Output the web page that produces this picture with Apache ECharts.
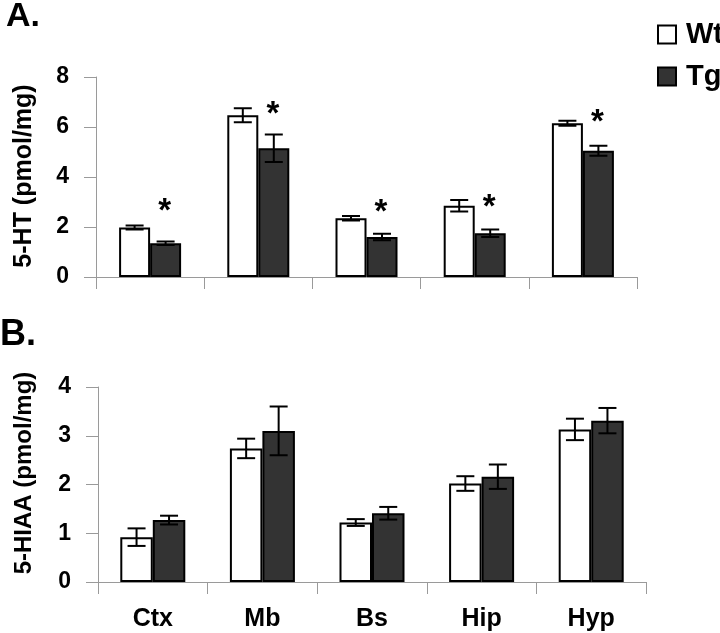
<!DOCTYPE html>
<html><head><meta charset="utf-8">
<script src="https://cdn.jsdelivr.net/npm/echarts@6/dist/echarts.min.js"></script>
<style>html,body{margin:0;padding:0;background:#fff}#c{width:720px;height:633px}</style>
</head><body><div id="c"></div>
<script>
const categories = ['Ctx', 'Mb', 'Bs', 'Hip', 'Hyp'];
const htTicks = [0, 2, 4, 6, 8];
const hiaaTicks = [0, 1, 2, 3, 4];
// Panel A: 5-HT
const htWt = [1.98, 6.47, 2.35, 2.85, 6.15];
const htWtErr = [0.08, 0.28, 0.09, 0.23, 0.1];
const htTg = [1.35, 5.15, 1.6, 1.75, 5.05];
const htTgErr = [0.07, 0.55, 0.13, 0.15, 0.2];
const htStarY = [2.88, 6.78, 2.86, 3.04, 6.44];
// Panel B: 5-HIAA
const hiaaWt = [0.92, 2.74, 1.22, 2.02, 3.13];
const hiaaWtErr = [0.18, 0.2, 0.07, 0.15, 0.22];
const hiaaTg = [1.27, 3.1, 1.41, 2.16, 3.31];
const hiaaTgErr = [0.09, 0.5, 0.13, 0.25, 0.26];

const FONT = '"Liberation Sans", Arial, sans-serif';
const AXIS_GRAY = '#9a9a9a';
const BAR_W_A = 31, BAR_W_B = 32.5;

function errRender(sign, barW) {
  return function (params, api) {
    const c = api.value(0), v = api.value(1), e = api.value(2);
    const t = api.coord([c, v + e]);
    const b = api.coord([c, v - e]);
    const x = t[0] + sign * barW / 2;
    const cw = 9;
    const st = { stroke: '#000', lineWidth: 2 };
    return { type: 'group', children: [
      { type: 'line', shape: { x1: x, y1: t[1], x2: x, y2: b[1] }, style: st },
      { type: 'line', shape: { x1: x - cw, y1: t[1], x2: x + cw, y2: t[1] }, style: st },
      { type: 'line', shape: { x1: x - cw, y1: b[1], x2: x + cw, y2: b[1] }, style: st }
    ]};
  };
}
function starRender(barW) {
  return function (params, api) {
    const p = api.coord([api.value(0), api.value(1)]);
    return { type: 'text', x: p[0] + barW / 2 - 1, y: p[1] + 7,
      style: { text: '*', fontSize: 33, fontWeight: 'bold', fontFamily: FONT, fill: '#000',
               align: 'center', verticalAlign: 'middle' } };
  };
}
const withIdx = (vals, errs) => vals.map((v, i) => [i, v, errs[i]]);

function yAxis(gi, ticks) {
  return {
    type: 'value', gridIndex: gi, min: ticks[0], max: ticks[ticks.length - 1],
    interval: ticks[1] - ticks[0],
    axisLine: { show: true, lineStyle: { color: AXIS_GRAY, width: 1 } },
    axisTick: { show: true, length: 12, lineStyle: { color: AXIS_GRAY } },
    splitLine: { show: false },
    axisLabel: { margin: 27, fontSize: 23, fontWeight: 'bold', color: '#000', fontFamily: FONT }
  };
}
function xAxis(gi, showLabels) {
  return {
    type: 'category', gridIndex: gi, data: categories, boundaryGap: true,
    axisLine: { show: true, lineStyle: { color: AXIS_GRAY, width: 1 } },
    axisTick: { show: true, length: 12, alignWithLabel: false, lineStyle: { color: AXIS_GRAY } },
    axisLabel: { show: showLabels, margin: 25, fontSize: 25, fontWeight: 'bold', color: '#000', fontFamily: FONT }
  };
}
const wtStyle = { color: '#ffffff', borderColor: '#000', borderWidth: 2 };
const tgStyle = { color: '#333333', borderColor: '#000', borderWidth: 2 };

const chart = echarts.init(document.getElementById('c'), null, { renderer: 'canvas' });
chart.setOption({
  animation: false,
  backgroundColor: '#fff',
  textStyle: { fontFamily: FONT },
  grid: [
    { left: 96, right: 83, top: 77, bottom: 356 },
    { left: 98, right: 74, top: 387, bottom: 51 }
  ],
  xAxis: [xAxis(0, false), xAxis(1, true)],
  yAxis: [yAxis(0, htTicks), yAxis(1, hiaaTicks)],
  legend: {
    data: ['Wt', 'Tg'], orient: 'vertical', left: 652, top: 15,
    itemWidth: 18, itemHeight: 18, itemGap: 13, icon: 'rect',
    textStyle: { fontSize: 29, fontWeight: 'bold', color: '#000', fontFamily: FONT, padding: [0, 0, 0, 5] }
  },
  graphic: [
    { type: 'text', left: 6, top: 0, style: { text: 'A.', fontSize: 34, fontWeight: 'bold', fontFamily: FONT, fill: '#000' } },
    { type: 'text', left: 0, top: 317, style: { text: 'B.', fontSize: 36, fontWeight: 'bold', fontFamily: FONT, fill: '#000' } },
    { type: 'text', x: 24, y: 176, rotation: Math.PI / 2,
      style: { text: '5-HT (pmol/mg)', fontSize: 25, fontWeight: 'bold', fontFamily: FONT, fill: '#000', align: 'center', verticalAlign: 'middle' } },
    { type: 'text', x: 24, y: 473, rotation: Math.PI / 2,
      style: { text: '5-HIAA (pmol/mg)', fontSize: 24, fontWeight: 'bold', fontFamily: FONT, fill: '#000', align: 'center', verticalAlign: 'middle' } }
  ],
  series: [
    { name: 'Wt', type: 'bar', xAxisIndex: 0, yAxisIndex: 0, data: htWt, barWidth: BAR_W_A, barGap: '0%', itemStyle: wtStyle },
    { name: 'Tg', type: 'bar', xAxisIndex: 0, yAxisIndex: 0, data: htTg, barWidth: BAR_W_A, barGap: '0%', itemStyle: tgStyle },
    { type: 'custom', xAxisIndex: 0, yAxisIndex: 0, data: withIdx(htWt, htWtErr), renderItem: errRender(-1, BAR_W_A), encode: { x: 0, y: 1 }, z: 5 },
    { type: 'custom', xAxisIndex: 0, yAxisIndex: 0, data: withIdx(htTg, htTgErr), renderItem: errRender(1, BAR_W_A), encode: { x: 0, y: 1 }, z: 5 },
    { type: 'custom', xAxisIndex: 0, yAxisIndex: 0, data: htStarY.map((v, i) => [i, v]), renderItem: starRender(BAR_W_A), encode: { x: 0, y: 1 }, z: 5 },
    { name: 'Wt', type: 'bar', xAxisIndex: 1, yAxisIndex: 1, data: hiaaWt, barWidth: BAR_W_B, barGap: '0%', itemStyle: wtStyle },
    { name: 'Tg', type: 'bar', xAxisIndex: 1, yAxisIndex: 1, data: hiaaTg, barWidth: BAR_W_B, barGap: '0%', itemStyle: tgStyle },
    { type: 'custom', xAxisIndex: 1, yAxisIndex: 1, data: withIdx(hiaaWt, hiaaWtErr), renderItem: errRender(-1, BAR_W_B), encode: { x: 0, y: 1 }, z: 5 },
    { type: 'custom', xAxisIndex: 1, yAxisIndex: 1, data: withIdx(hiaaTg, hiaaTgErr), renderItem: errRender(1, BAR_W_B), encode: { x: 0, y: 1 }, z: 5 }
  ]
});
</script></body></html>
